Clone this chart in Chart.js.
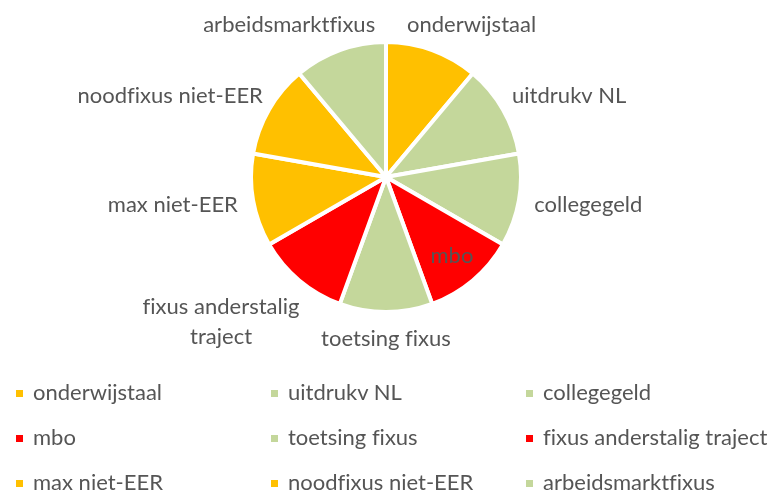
<!DOCTYPE html>
<html>
<head>
<meta charset="utf-8">
<script src="https://cdn.jsdelivr.net/npm/chart.js@4.4.1/dist/chart.umd.min.js"></script>
<style>
  html, body { margin: 0; padding: 0; background: #ffffff; }
  #wrap { position: relative; width: 774px; height: 491px; overflow: hidden; }
  #c { position: absolute; left: 0; top: 0; }
  .lg { position: absolute; height: 28px; line-height: 28px; white-space: nowrap;
        font-family: Lato, "Liberation Sans", Arial, sans-serif; font-size: 22px; color: #555555;
        font-variant-ligatures: none; font-feature-settings: "liga" 0; }
  .lg i { position: absolute; left: 0; top: 12px; width: 7px; height: 7px; }
  .lg span { position: absolute; left: 17px; top: 0; }
</style>
</head>
<body>
<div id="wrap">
  <canvas id="c" width="774" height="491"></canvas>
</div>
<script>
// ---- data ----
const categories = ["onderwijstaal", "uitdrukv NL", "collegegeld", "mbo", "toetsing fixus",
                    "fixus anderstalig traject", "max niet-EER", "noodfixus niet-EER", "arbeidsmarktfixus"];
const values = [1, 1, 1, 1, 1, 1, 1, 1, 1];
const sliceColors = ["#FFC000", "#C4D79B", "#C4D79B", "#FF0000", "#C4D79B",
                     "#FF0000", "#FFC000", "#FFC000", "#C4D79B"];
const labelPlacement = ["outside", "outside", "outside", "inside", "outside",
                        "outside", "outside", "outside", "outside"];

const FONT = '22px Lato, "Liberation Sans", Arial, sans-serif';
const TEXT_COLOR = '#555555';

const labelPlugin = {
  id: 'sliceLabels',
  afterDatasetsDraw(chart) {
    const ctx = chart.ctx;
    const meta = chart.getDatasetMeta(0);
    ctx.save();
    ctx.font = FONT;
    try { ctx.letterSpacing = '0.01px'; } catch (e) {}
    ctx.fillStyle = TEXT_COLOR;
    ctx.textAlign = 'center';
    ctx.textBaseline = 'middle';
    const lineH = 30, textH = 22, gap = 16, maxW = 190;
    meta.data.forEach((arc, i) => {
      const p = arc.getProps(['x', 'y', 'startAngle', 'endAngle', 'outerRadius'], true);
      const mid = (p.startAngle + p.endAngle) / 2;
      const ux = Math.cos(mid), uy = Math.sin(mid);
      const words = chart.data.labels[i].split(' ');
      const lines = [];
      let cur = '';
      words.forEach(w => {
        const t = cur ? cur + ' ' + w : w;
        if (cur && ctx.measureText(t).width > maxW) { lines.push(cur); cur = w; }
        else cur = t;
      });
      if (cur) lines.push(cur);
      const w = Math.max(...lines.map(l => ctx.measureText(l).width));
      const h = (lines.length - 1) * lineH + textH;
      let cx, cy;
      if (labelPlacement[i] === 'inside') {
        cx = p.x + ux * p.outerRadius * 0.76;
        cy = p.y + uy * p.outerRadius * 0.76;
      } else {
        const R = p.outerRadius + gap + (lines.length - 1) * 12;
        cx = p.x + ux * R + Math.sign(ux) * Math.pow(Math.abs(ux), 0.6) * w / 2;
        cy = p.y + uy * R + uy * h / 2;
      }
      lines.forEach((l, k) => {
        ctx.fillText(l, cx, cy - h / 2 + textH / 2 + k * lineH);
      });
    });
    ctx.restore();
  }
};

new Chart(document.getElementById('c'), {
  type: 'pie',
  data: {
    labels: categories,
    datasets: [{
      data: values,
      backgroundColor: sliceColors,
      borderColor: '#ffffff',
      borderWidth: 4
    }]
  },
  options: {
    responsive: false,
    animation: false,
    layout: { padding: { top: 40, bottom: 177, left: 0, right: 2 } },
    plugins: { legend: { display: false }, tooltip: { enabled: false } }
  },
  plugins: [labelPlugin]
});

// ---- legend (3 columns) ----
const wrap = document.getElementById('wrap');
const colX = [16, 271, 526];
const rowY = [392, 437, 482];
categories.forEach((name, i) => {
  const d = document.createElement('div');
  d.className = 'lg';
  d.style.left = colX[i % 3] + 'px';
  d.style.top = (rowY[Math.floor(i / 3)] - 14) + 'px';
  const m = document.createElement('i');
  m.style.background = sliceColors[i];
  const s = document.createElement('span');
  s.textContent = name;
  d.appendChild(m); d.appendChild(s);
  wrap.appendChild(d);
});
</script>
</body>
</html>
